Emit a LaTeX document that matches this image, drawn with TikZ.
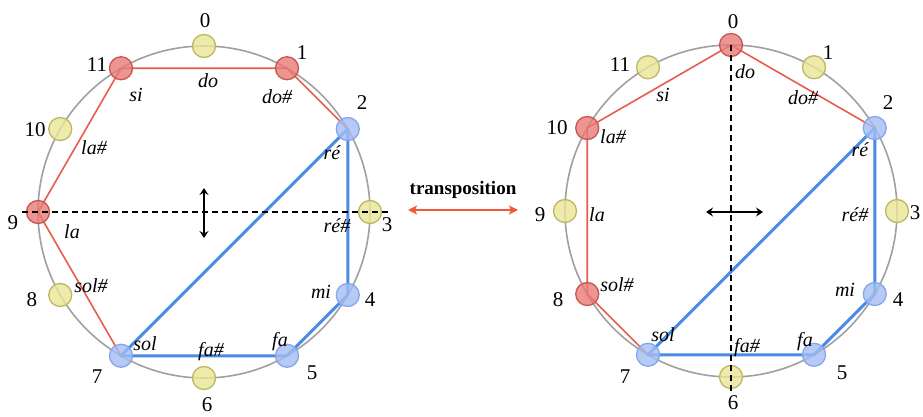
\documentclass[tikz,border=0pt]{standalone}
\usepackage{fontspec}
\setmainfont{Liberation Serif}
\usetikzlibrary{arrows.meta,calc}
\definecolor{yfill}{HTML}{EAE597}
\definecolor{ydraw}{HTML}{BDB760}
\definecolor{rfill}{HTML}{E77A76}
\definecolor{rdraw}{HTML}{C95553}
\definecolor{bfill}{HTML}{A3BDF3}
\definecolor{bdraw}{HTML}{85A5EC}
\definecolor{bline}{HTML}{4A8BE6}
\definecolor{rline}{HTML}{E85C4E}
\definecolor{ring}{HTML}{A0A0A0}
\definecolor{tarrow}{HTML}{EE5A3A}
\tikzset{
  pc/.style={circle,minimum size=23pt,inner sep=0pt,line width=1.3pt,fill opacity=0.8},
  pcy/.style={pc,fill=yfill,draw=ydraw},
  pcr/.style={pc,fill=rfill,draw=rdraw},
  pcb/.style={pc,fill=bfill,draw=bdraw},
  num/.style={inner sep=0pt,font=\fontsize{21}{24}\selectfont},
  note/.style={inner sep=0pt,font=\fontsize{20}{23}\selectfont\itshape},
  ringline/.style={draw=ring,line width=1.6pt},
  redchord/.style={draw=rline,line width=1.6pt,line join=round},
  bluechord/.style={draw=bline,line width=3pt,line join=round},
  dashline/.style={dash pattern=on 6pt off 4pt,line width=1.4pt},
  flip/.style={{Stealth[length=7pt,width=9pt,inset=2.5pt]}-{Stealth[length=7pt,width=9pt,inset=2.5pt]},line width=1.2pt},
  transarrow/.style={{Stealth[length=9pt,width=9pt,inset=2pt]}-{Stealth[length=9pt,width=9pt,inset=2pt]},draw=tarrow,line width=1.6pt},
}
\begin{document}
\begin{tikzpicture}[x=1pt,y=-1pt]
\useasboundingbox (0,0) rectangle (923,417);
% centres
\coordinate (LC) at (204,212);
\coordinate (RC) at (731,211);
% rings
\draw[ringline] (LC) circle[radius=166pt];
\draw[ringline] (RC) circle[radius=166pt];
% positions of the pitch classes
\foreach \k in {0,...,11}{
  \coordinate (Lc\k) at ($(LC)+({166*cos(90-30*\k)},{-166*sin(90-30*\k)})$);
  \coordinate (Rc\k) at ($(RC)+({166*cos(90-30*\k)},{-166*sin(90-30*\k)})$);
}
% chords left
\draw[redchord] (Lc2) -- (Lc1) -- (Lc11) -- (Lc9) -- (Lc7);
\draw[bluechord] (Lc2) -- (Lc4) -- (Lc5) -- (Lc7) -- cycle;
% chords right
\draw[redchord] (Rc2) -- (Rc0) -- (Rc10) -- (Rc8) -- (Rc7);
\draw[bluechord] (Rc2) -- (Rc4) -- (Rc5) -- (Rc7) -- cycle;
% nodes
\foreach \k/\s in {0/pcy,1/pcr,2/pcb,3/pcy,4/pcb,5/pcb,6/pcy,7/pcb,8/pcy,9/pcr,10/pcy,11/pcr}{
  \node[\s] (L\k) at (Lc\k) {};
}
\foreach \k/\s in {0/pcr,1/pcy,2/pcb,3/pcy,4/pcb,5/pcb,6/pcy,7/pcb,8/pcr,9/pcy,10/pcr,11/pcy}{
  \node[\s] (R\k) at (Rc\k) {};
}
% axes
\draw[dashline] ($(Lc9)!-16pt!(Lc3)$) -- ($(Lc3)!-18pt!(Lc9)$);
\draw[dashline] (Rc0) -- ($(Rc6)!-14pt!(Rc0)$);
\coordinate (la1) at (204,188);
\coordinate (la2) at (204,238);
\draw[flip] (la1) -- (la2);
\coordinate (ra1) at (706,212);
\coordinate (ra2) at (763,212);
\draw[flip] (ra1) -- (ra2);
% numbers left
\node[num] (Ln0) at (205,21) {0};
\node[num] (Ln1) at (302,53) {1};
\node[num] (Ln2) at (362,103) {2};
\node[num] (Ln3) at (387,225) {3};
\node[num] (Ln4) at (370,300) {4};
\node[num] (Ln5) at (312,373) {5};
\node[num] (Ln6) at (207,405) {6};
\node[num] (Ln7) at (97,377) {7};
\node[num] (Ln8) at (32,300) {8};
\node[num] (Ln9) at (13,223) {9};
\node[num] (Ln10) at (35,130) {10};
\node[num] (Ln11) at (97,65) {11};
% numbers right
\node[num] (Rn0) at (733,22) {0};
\node[num] (Rn1) at (828,53) {1};
\node[num] (Rn2) at (888,103) {2};
\node[num] (Rn3) at (915,213) {3};
\node[num] (Rn4) at (898,300) {4};
\node[num] (Rn5) at (842,373) {5};
\node[num] (Rn6) at (733,403) {6};
\node[num] (Rn7) at (625,377) {7};
\node[num] (Rn8) at (558,300) {8};
\node[num] (Rn9) at (540,215) {9};
\node[num] (Rn10) at (557,128) {10};
\node[num] (Rn11) at (620,65) {11};
% notes left
\node[note] (Lt0) at (208,81) {do};
\node[note] (Lt1) at (277,97) {do\#};
\node[note] (Lt2) at (332,153) {ré};
\node[note] (Lt3) at (337,226) {ré\#};
\node[note] (Lt4) at (321,292) {mi};
\node[note] (Lt5) at (280,342) {fa};
\node[note] (Lt6) at (211,352) {fa\#};
\node[note] (Lt7) at (145,344) {sol};
\node[note] (Lt8) at (91,286) {sol\#};
\node[note] (Lt9) at (72,232) {la};
\node[note] (Lt10) at (94,148) {la\#};
\node[note] (Lt11) at (136,95) {si};
% notes right
\node[note] (Rt0) at (745,72) {do};
\node[note] (Rt1) at (803,98) {do\#};
\node[note] (Rt2) at (860,150) {ré};
\node[note] (Rt3) at (855,215) {ré\#};
\node[note] (Rt4) at (845,290) {mi};
\node[note] (Rt5) at (805,342) {fa};
\node[note] (Rt6) at (747,348) {fa\#};
\node[note] (Rt7) at (663,335) {sol};
\node[note] (Rt8) at (617,285) {sol\#};
\node[note] (Rt9) at (597,215) {la};
\node[note] (Rt10) at (613,137) {la\#};
\node[note] (Rt11) at (663,95) {si};
% transposition
\node[inner sep=0pt,font=\fontsize{19}{22}\selectfont\bfseries] (tt) at (463,190) {transposition};
\coordinate (ta1) at (408,210);
\coordinate (ta2) at (518,210);
\draw[transarrow] (ta1) -- (ta2);
\end{tikzpicture}
\end{document}
